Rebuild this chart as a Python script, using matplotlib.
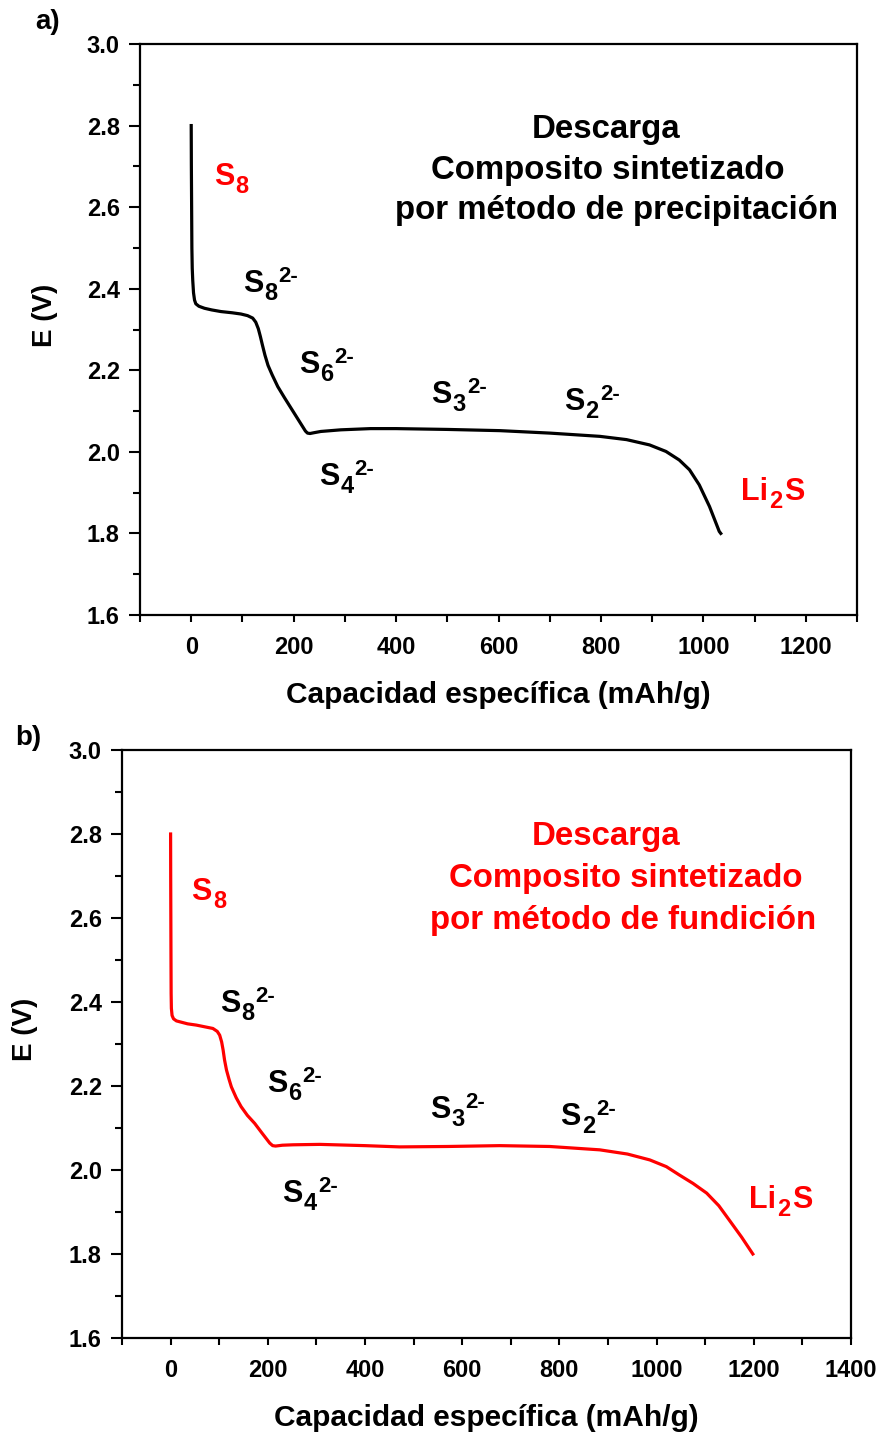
import matplotlib
matplotlib.use("Agg")
import matplotlib.pyplot as plt
from matplotlib.ticker import MultipleLocator

plt.rcParams["font.family"] = ["Liberation Sans", "DejaVu Sans"]
plt.rcParams["font.weight"] = "bold"

# Discharge curve, composite made by precipitation (capacity mAh/g, potential V)
cap_prec = [0, 0.3, 0.8, 1.3, 2, 3, 4.5, 6.5, 9, 15, 26, 40, 58, 80, 97, 110,
            120, 126, 131, 135, 139, 144, 150, 158, 169, 182, 195, 207, 217,
            223, 227, 232, 240, 253, 292, 350, 400, 500, 603, 700, 798, 850,
            895, 927, 953, 973, 992, 1012, 1031, 1034]
pot_prec = [2.80, 2.70, 2.60, 2.50, 2.45, 2.42, 2.39, 2.372, 2.363, 2.357,
            2.352, 2.348, 2.344, 2.341, 2.338, 2.334, 2.328, 2.318, 2.302,
            2.283, 2.262, 2.237, 2.212, 2.189, 2.160, 2.133, 2.107, 2.083,
            2.063, 2.051, 2.046, 2.045, 2.047, 2.050, 2.054, 2.057, 2.057,
            2.055, 2.052, 2.046, 2.038, 2.030, 2.017, 2.001, 1.980, 1.956,
            1.919, 1.866, 1.805, 1.800]

# Discharge curve, composite made by melting
cap_fund = [0, 0.2, 0.5, 0.8, 1.1, 1.6, 3, 6, 12, 18.5, 35, 53, 70, 87, 96,
            101, 105, 108, 111, 115, 120, 125, 135, 145, 158, 173, 188, 204,
            210, 216, 230, 252, 307, 400, 471, 570, 677, 780, 883, 940, 986,
            1020, 1047, 1075, 1103, 1128, 1150, 1175, 1198]
pot_fund = [2.80, 2.70, 2.60, 2.50, 2.42, 2.385, 2.368, 2.360, 2.355, 2.353,
            2.348, 2.345, 2.341, 2.337, 2.330, 2.321, 2.305, 2.286, 2.262,
            2.238, 2.217, 2.198, 2.172, 2.151, 2.130, 2.111, 2.088, 2.064,
            2.058, 2.057, 2.059, 2.060, 2.061, 2.058, 2.055, 2.056, 2.058,
            2.056, 2.048, 2.038, 2.024, 2.008, 1.988, 1.968, 1.945, 1.915,
            1.880, 1.840, 1.800]

xlabel = "Capacidad específica (mAh/g)"
ylabel = "E (V)"
titles_a = ["Descarga", "Composito sintetizado", "por método de precipitación"]
titles_b = ["Descarga", "Composito sintetizado", "por método de fundición"]
title_x_a = [811, 814, 830]
title_x_b = [897, 936, 932]

# Sulfur species along the curve: pieces are (text, role)
species = [
    [("S", "base"), ("8", "sub")],
    [("S", "base"), ("8", "sub"), ("2-", "sup")],
    [("S", "base"), ("6", "sub"), ("2-", "sup")],
    [("S", "base"), ("3", "sub"), ("2-", "sup")],
    [("S", "base"), ("2", "sub"), ("2-", "sup")],
    [("S", "base"), ("4", "sub"), ("2-", "sup")],
    [("Li", "base"), ("2", "sub"), ("S", "base")],
]
species_color = ["red", "black", "black", "black", "black", "black", "red"]
pos_a = [(45, 2.654), (101, 2.392), (210, 2.194), (469, 2.120),
         (728, 2.103), (249, 1.919), (1074, 1.882)]
pos_b = [(43, 2.643), (101, 2.376), (198, 2.186), (533, 2.124),
         (802, 2.107), (230, 1.924), (1191, 1.910)]

role_size = {"base": 22, "sub": 17, "sup": 16}
role_shift = {"base": 0, "sub": -6, "sup": 7}

fig = plt.figure(figsize=(8.81, 14.33), dpi=100)
ax_a = fig.add_axes([140 / 881, 1 - 615 / 1433, (857 - 140) / 881, (615 - 44) / 1433])
ax_b = fig.add_axes([122 / 881, 1 - 1338 / 1433, (851 - 122) / 881, (1338 - 750) / 1433])


def style(ax, xmax, ylab_xy):
    ax.set_xlim(-100, xmax)
    ax.set_ylim(1.6, 3.0)
    ax.xaxis.set_major_locator(MultipleLocator(200))
    ax.xaxis.set_minor_locator(MultipleLocator(100))
    ax.yaxis.set_major_locator(MultipleLocator(0.2))
    ax.yaxis.set_minor_locator(MultipleLocator(0.1))
    ax.yaxis.set_major_formatter(plt.FuncFormatter(lambda v, p: f"{v:.1f}"))
    for s in ax.spines.values():
        s.set_linewidth(1.6)
    ax.tick_params(axis="both", which="both", direction="out", width=1.5,
                   labelsize=17, top=False, right=False)
    ax.tick_params(axis="y", which="major", length=8, pad=6.5)
    ax.tick_params(axis="y", which="minor", length=5)
    ax.tick_params(axis="x", which="major", length=5, pad=10)
    ax.tick_params(axis="x", which="minor", length=5)
    for lab in ax.get_xticklabels() + ax.get_yticklabels():
        lab.set_fontweight("bold")
    ax.set_xlabel(xlabel, fontsize=21.5, fontweight="bold", labelpad=16)
    ax.set_ylabel(ylabel, fontsize=20, fontweight="bold")
    ax.yaxis.set_label_coords(*ylab_xy)


def draw_species(ax, x, y, parts, color):
    prev = None
    for txt, role in parts:
        kw = dict(ha="left", va="baseline", fontsize=role_size[role],
                  fontweight="bold", color=color)
        if prev is None:
            prev = ax.text(x, y, txt, **kw)
        else:
            prev = ax.annotate(txt, xy=(1, y), xycoords=(prev, "data"),
                               xytext=(0.8, role_shift[role]),
                               textcoords="offset points", **kw)


style(ax_a, 1300, (-0.114, 0.524))
style(ax_b, 1400, (-0.115, 0.525))

ax_a.plot(cap_prec, pot_prec, color="black", lw=2.3)
ax_b.plot(cap_fund, pot_fund, color="red", lw=2.3)

for ax, titles, xs, ty, tcolor in [(ax_a, titles_a, title_x_a, 2.790, "black"),
                                   (ax_b, titles_b, title_x_b, 2.793, "red")]:
    for i, (t, tx) in enumerate(zip(titles, xs)):
        ax.text(tx, ty - i * 0.099, t, ha="center", va="center",
                fontsize=23.8, fontweight="bold", color=tcolor)

for ax, positions in [(ax_a, pos_a), (ax_b, pos_b)]:
    for parts, (x, y), c in zip(species, positions, species_color):
        draw_species(ax, x, y, parts, c)

fig.text(35 / 881, 1 - 22 / 1433, "a)", fontsize=20, fontweight="bold",
         ha="left", va="center")
fig.text(15 / 881, 1 - 738 / 1433, "b)", fontsize=20, fontweight="bold",
         ha="left", va="center")

fig.savefig("out.png", dpi=100)
